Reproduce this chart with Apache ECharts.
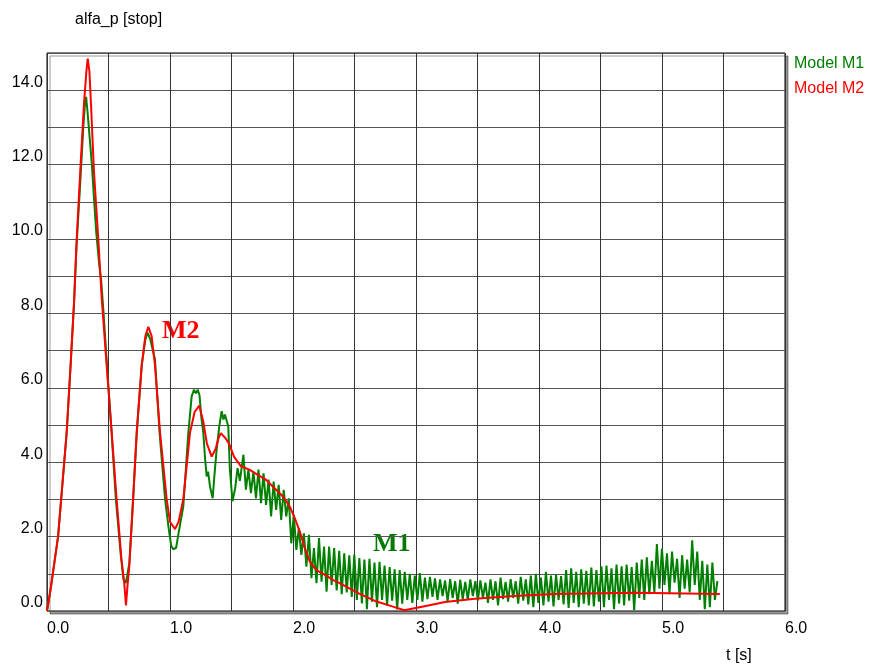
<!DOCTYPE html>
<html>
<head>
<meta charset="utf-8">
<script src="https://cdn.jsdelivr.net/npm/echarts@6/dist/echarts.min.js"></script>
<style>
  html, body { margin: 0; padding: 0; background: #fff; }
  #main { width: 876px; height: 669px; }
</style>
</head>
<body>
<div id="main"></div>
<script>
// Model M2 (red, smooth) - time [s] and value
var m2Time = [0, 0.03, 0.06, 0.09, 0.12, 0.16, 0.19, 0.22, 0.24, 0.27, 0.30, 0.32, 0.331, 0.345, 0.358, 0.382, 0.417,
  0.445, 0.485, 0.526, 0.566, 0.605, 0.628, 0.642, 0.655, 0.669, 0.70, 0.729, 0.77, 0.80, 0.824, 0.85, 0.878, 0.919,
  0.973, 1.00, 1.041, 1.07, 1.108, 1.163, 1.20, 1.238, 1.27, 1.30, 1.339, 1.37, 1.395, 1.413, 1.45, 1.48, 1.52, 1.577,
  1.645, 1.713, 1.78, 1.85, 1.918, 1.973, 2.014, 2.055, 2.096, 2.137, 2.19, 2.26, 2.328, 2.395, 2.53, 2.666, 2.80,
  2.905, 3.07, 3.236, 3.48, 3.80, 4.13, 4.37, 4.38, 4.78, 4.79, 5.47];
var m2Value = [0, 0.6, 1.3, 2.0, 3.2, 4.8, 6.5, 8.3, 9.9, 11.8, 13.6, 14.5, 14.85, 14.5, 13.6, 11.8, 10.0,
  8.4, 6.6, 4.8, 3.0, 1.4, 0.75, 0.15, 0.7, 1.2, 3.0, 4.8, 6.6, 7.4, 7.64, 7.4, 6.6, 4.8,
  3.0, 2.4, 2.2, 2.4, 3.0, 4.8, 5.35, 5.52, 5.1, 4.5, 4.15, 4.35, 4.65, 4.78, 4.65, 4.5, 4.15, 3.89,
  3.8, 3.66, 3.53, 3.3, 3.08, 2.81, 2.5, 2.14, 1.69, 1.33, 1.1, 0.97, 0.83, 0.72, 0.48, 0.27, 0.13,
  0.02, 0.13, 0.24, 0.33, 0.40, 0.46, 0.47, 0.49, 0.49, 0.46, 0.46];

// Model M1 (green) - first part read point by point
var m1HeadTime = [0, 0.03, 0.06, 0.09, 0.12, 0.16, 0.19, 0.22, 0.24, 0.27, 0.295, 0.31, 0.318, 0.33, 0.345, 0.365, 0.38,
  0.40, 0.425, 0.44, 0.46, 0.49, 0.525, 0.56, 0.60, 0.622, 0.64, 0.652, 0.67, 0.70, 0.73, 0.77, 0.80, 0.818, 0.84,
  0.878, 0.915, 0.96, 0.99, 1.01, 1.027, 1.05, 1.07, 1.108, 1.149, 1.176, 1.195, 1.21, 1.225, 1.24, 1.255, 1.271,
  1.285, 1.298, 1.31, 1.325, 1.347, 1.36, 1.379, 1.40, 1.42, 1.434, 1.447, 1.462, 1.474, 1.486, 1.508, 1.53, 1.549,
  1.568, 1.597];
var m1HeadValue = [0, 0.6, 1.3, 2.0, 3.2, 4.8, 6.5, 8.3, 9.8, 11.5, 13.0, 13.7, 13.82, 13.4, 12.8, 12.0, 11.2,
  10.2, 9.3, 8.9, 8.0, 6.5, 4.8, 3.0, 1.5, 0.85, 0.75, 0.95, 1.3, 3.0, 4.8, 6.6, 7.3, 7.48, 7.3,
  6.76, 4.8, 3.0, 2.2, 1.75, 1.66, 1.7, 2.1, 2.81, 4.78, 5.77, 5.95, 5.85, 5.95, 5.8, 5.2, 4.78,
  4.1, 3.62, 3.75, 3.35, 3.03, 3.6, 4.33, 4.95, 5.37, 5.15, 5.28, 5.1, 4.96, 3.84, 2.95, 3.3, 3.84,
  3.5, 4.2];

// Model M1 - oscillating tail, alternating trough / peak every m1OscStep seconds
var m1OscStart = 1.617;
var m1OscStep = 0.0205;
var m1OscValue = [
  3.26, 3.80, 3.17, 3.75, 3.03, 3.80, 2.90, 3.70, 2.85, 3.53,
  2.54, 3.48, 2.72, 3.39, 2.45, 3.26, 2.54, 3.03, 1.82, 2.59,
  1.64, 2.23, 1.51, 2.09, 1.19, 2.05, 0.88, 1.69, 0.75, 1.96,
  0.79, 1.73, 0.52, 1.73, 0.70, 1.69, 0.55, 1.62, 0.45, 1.55,
  0.50, 1.50, 0.38, 1.52, 0.30, 1.42, 0.20, 1.38, 0.05, 1.40,
  0.25, 1.30, 0.10, 1.32, 0.30, 1.22, 0.15, 1.18, 0.28, 1.12,
  0.04, 1.10, 0.20, 1.05, 0.30, 1.00, 0.22, 0.95, 0.30, 1.02,
  0.25, 0.90, 0.32, 0.92, 0.38, 0.88, 0.30, 0.85, 0.40, 0.82,
  0.25, 0.86, 0.35, 0.80, 0.20, 0.84, 0.32, 0.78, 0.30, 0.85,
  0.40, 0.80, 0.28, 0.82, 0.35, 0.76, 0.22, 0.85, 0.30, 0.80,
  0.15, 0.90, 0.32, 0.78, 0.25, 0.86, 0.35, 0.80, 0.20, 0.92,
  0.28, 0.85, 0.18, 0.95, 0.10, 1.00, 0.22, 0.90, 0.15, 1.05,
  0.25, 0.95, 0.12, 0.98, 0.30, 0.94, 0.18, 1.10, 0.08, 1.15,
  0.22, 1.05, 0.10, 1.12, 0.20, 1.08, 0.15, 1.17, 0.12, 1.10,
  0.25, 1.20, 0.10, 1.22, 0.30, 1.15, 0.05, 1.25, 0.20, 1.20,
  0.15, 1.25, 0.28, 1.18, 0.02, 1.30, 0.35, 1.38, 0.30, 1.44,
  0.45, 1.35, 0.50, 1.80, 0.60, 1.68, 0.70, 1.55, 0.45, 1.60,
  0.76, 1.40, 0.35, 1.50, 0.60, 1.38, 0.50, 1.90, 0.70, 1.60,
  0.30, 1.35, 0.05, 1.25, 0.10, 1.30, 0.30, 0.80];

var seriesNames = ['Model M1', 'Model M2'];
var seriesColors = ['#008000', '#ff0000'];

function pairs(ts, vs) {
  var out = [];
  for (var i = 0; i < ts.length; i++) out.push([ts[i], vs[i]]);
  return out;
}

var m2Data = pairs(m2Time, m2Value);
var m1Data = pairs(m1HeadTime, m1HeadValue);
for (var i = 0; i < m1OscValue.length; i++) {
  m1Data.push([m1OscStart + i * m1OscStep, m1OscValue[i]]);
}

var myChart = echarts.init(document.getElementById('main'));
var font = '"Liberation Sans", Arial, sans-serif';

var option = {
  animation: false,
  backgroundColor: '#fff',
  grid: {
    left: 47, top: 53, right: 91, bottom: 58,
    show: true,
    backgroundColor: '#fff',
    borderColor: '#000',
    borderWidth: 1,
    shadowColor: 'rgba(0,0,0,0.4)',
    shadowOffsetX: 3,
    shadowOffsetY: 3,
    shadowBlur: 0
  },
  xAxis: {
    type: 'value',
    min: 0, max: 6, interval: 0.5,
    axisLine: { show: false },
    axisTick: { show: false },
    splitLine: { show: true, lineStyle: { color: '#333', width: 1 } },
    axisLabel: {
      color: '#000', fontFamily: font, fontSize: 16, margin: 10, align: 'left',
      formatter: function (v) { return Math.abs(v % 1) < 1e-9 ? v.toFixed(1) : ''; }
    }
  },
  yAxis: {
    type: 'value',
    min: 0, max: 15, interval: 1,
    axisLine: { show: false },
    axisTick: { show: false },
    splitLine: { show: true, lineStyle: { color: '#555', width: 1 } },
    axisLabel: {
      color: '#000', fontFamily: font, fontSize: 16, margin: 4, verticalAlign: 'bottom',
      formatter: function (v) { return (v % 2 === 0 && v < 15) ? v.toFixed(1) : ''; }
    }
  },
  graphic: [
    { type: 'text', left: 75, top: 12, style: { text: 'alfa_p [stop]', font: '16px ' + font, fill: '#000' } },
    { type: 'text', left: 726, top: 648, style: { text: 't [s]', font: '16px ' + font, fill: '#000' } },
    { type: 'text', left: 794, top: 56, style: { text: seriesNames[0], font: '16px ' + font, fill: seriesColors[0] } },
    { type: 'text', left: 794, top: 81, style: { text: seriesNames[1], font: '16px ' + font, fill: seriesColors[1] } },
    { type: 'text', left: 162, top: 318, style: { text: 'M2', font: 'bold 26px "Liberation Serif", "Times New Roman", serif', fill: seriesColors[1] } },
    { type: 'text', left: 373, top: 531, style: { text: 'M1', font: 'bold 26px "Liberation Serif", "Times New Roman", serif', fill: '#007a00' } }
  ],
  series: [
    {
      name: seriesNames[0], type: 'line', data: m1Data,
      showSymbol: false, symbol: 'none',
      lineStyle: { color: seriesColors[0], width: 2 }, z: 2
    },
    {
      name: seriesNames[1], type: 'line', data: m2Data,
      showSymbol: false, symbol: 'none',
      lineStyle: { color: seriesColors[1], width: 2 }, z: 3
    }
  ]
};

myChart.setOption(option);
window.onresize = function () { myChart.resize(); };
</script>
</body>
</html>
